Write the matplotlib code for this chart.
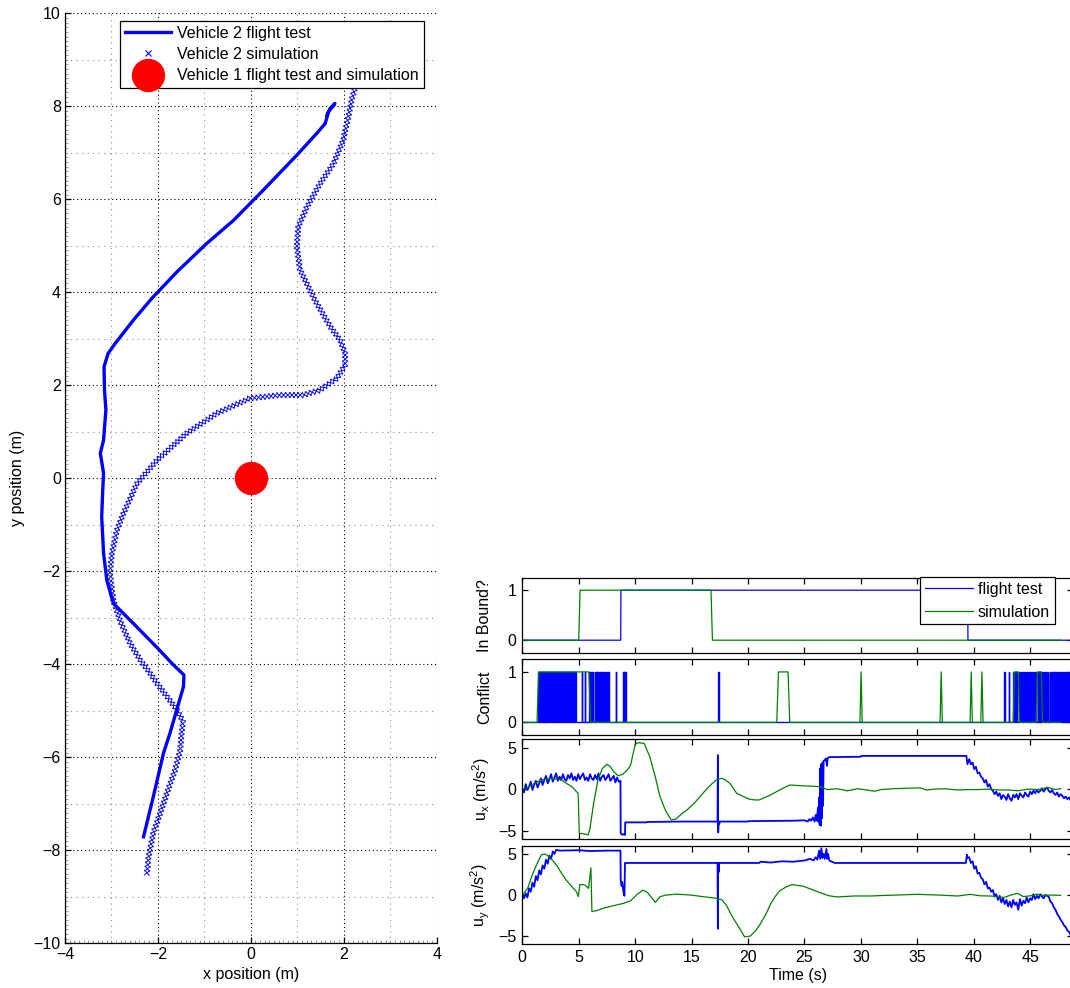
import numpy as np
import matplotlib.pyplot as plt
from matplotlib.ticker import MultipleLocator
from matplotlib import patheffects as pe

plt.rcParams['font.family'] = ['Liberation Sans', 'DejaVu Sans']
plt.rcParams['font.size'] = 11.5
plt.rcParams['mathtext.fontset'] = 'custom'
plt.rcParams['mathtext.rm'] = 'Liberation Sans'
plt.rcParams['mathtext.default'] = 'regular'
plt.rcParams['axes.linewidth'] = 0.9

# ---------------- trajectories (m) ----------------
ft_x = [-2.31, -2.10, -1.88, -1.74, -1.45, -1.44, -1.67, -2.00, -2.50, -2.96, -3.10, -3.17, -3.21,
        -3.19, -3.17, -3.24, -3.17, -3.12, -3.15, -3.16, -3.07, -2.92, -2.53, -2.13, -1.59, -0.95,
        -0.37, 0.27, 0.99, 1.42, 1.60, 1.67, 1.81, 1.71, 1.64]
ft_y = [-7.71, -6.85, -5.91, -5.48, -4.48, -4.23, -4.01, -3.66, -3.15, -2.69, -2.19, -1.61, -0.83,
        -0.30, 0.11, 0.54, 0.82, 1.47, 1.90, 2.40, 2.69, 2.90, 3.40, 3.87, 4.44, 5.05,
        5.55, 6.20, 6.95, 7.42, 7.63, 7.88, 8.06, 7.96, 7.81]

sim_x = [-2.24, -2.20, -2.10, -1.95, -1.80, -1.63, -1.52, -1.49, -1.46, -1.59, -1.80, -2.02, -2.20,
         -2.38, -2.60, -2.80, -2.96, -3.03, -2.99, -2.88, -2.74, -2.45, -2.02, -1.38, -0.73, -0.02,
         0.63, 1.13, 1.49, 1.85, 2.03, 2.03, 1.92, 1.71, 1.38, 1.06, 0.99, 1.02, 1.21, 1.49, 1.78,
         1.99, 2.10, 2.17, 2.25, 2.32]
sim_y = [-8.53, -8.14, -7.63, -7.20, -6.75, -6.27, -5.85, -5.48, -5.23, -4.98, -4.70, -4.41, -4.15,
         -3.91, -3.55, -3.10, -2.62, -2.04, -1.61, -1.11, -0.75, -0.11, 0.39, 0.97, 1.40, 1.72,
         1.79, 1.79, 1.90, 2.15, 2.44, 2.69, 2.97, 3.26, 3.83, 4.48, 4.98, 5.41, 5.84, 6.34, 6.77,
         7.28, 7.78, 8.14, 8.42, 8.70]

v1_x = [0.0]
v1_y = [0.0]

pos_xticks = [-4, -2, 0, 2, 4]
pos_yticks = [-10, -8, -6, -4, -2, 0, 2, 4, 6, 8, 10]

# ---------------- time histories ----------------
t_end = 48.8
time_ticks = [0, 5, 10, 15, 20, 25, 30, 35, 40, 45]

ib_ft_t = [0.0, 8.72, 8.74, 39.47, 39.49, 48.8]
ib_ft_v = [0, 0, 1, 1, 0, 0]
ib_sim_t = [0.0, 5.00, 5.12, 16.72, 16.85, 47.7]
ib_sim_v = [0, 0, 1, 1, 0, 0]

cf_ft_on = [1.37, 1.50, 1.70, 1.83, 1.97, 2.10, 2.22, 2.35, 2.47, 2.60, 2.72, 2.85, 2.97, 3.10,
            3.22, 3.35, 3.47, 3.60, 3.80, 3.93, 4.05, 4.20, 4.33, 4.45, 4.58, 4.70,
            5.25, 5.54, 5.92, 6.05, 6.20, 6.40, 6.53, 6.64, 6.80, 6.90, 7.03, 7.15, 7.30, 7.46,
            7.62, 8.28, 8.96, 9.05, 9.13, 17.38,
            42.72, 43.10, 43.50, 43.65, 43.78, 44.05, 44.20, 44.35, 44.48, 44.62, 44.78, 44.90,
            45.05, 45.20, 45.32, 45.48, 45.70, 45.85, 46.00, 46.15, 46.28, 46.42, 46.58, 46.72,
            46.88, 47.02, 47.15, 47.30, 47.45, 47.58, 47.72, 47.88, 48.02, 48.18, 48.32, 48.48,
            48.62]
cf_ft_off = [1.45, 1.58, 1.78, 1.88, 2.05, 2.14, 2.30, 2.42, 2.55, 2.66, 2.80, 2.92, 3.05, 3.16,
             3.30, 3.42, 3.55, 3.66, 3.88, 4.00, 4.10, 4.28, 4.40, 4.48, 4.65, 4.78,
             5.29, 5.58, 6.00, 6.10, 6.26, 6.48, 6.60, 6.68, 6.86, 6.93, 7.10, 7.20, 7.36, 7.50,
             7.66, 8.33, 9.00, 9.10, 9.17, 17.46,
             42.78, 43.15, 43.55, 43.72, 43.85, 44.12, 44.28, 44.40, 44.55, 44.70, 44.82, 44.98,
             45.12, 45.25, 45.40, 45.52, 45.78, 45.92, 46.08, 46.20, 46.35, 46.50, 46.62, 46.80,
             46.95, 47.08, 47.22, 47.38, 47.50, 47.65, 47.80, 47.95, 48.10, 48.25, 48.40, 48.55,
             48.70]

cf_sim_t = [0.0, 1.30, 1.45, 5.90, 6.05, 22.55, 22.70, 23.55, 23.70, 29.92, 30.02, 30.12,
            37.02, 37.12, 37.22, 39.68, 39.78, 39.88, 40.63, 40.73, 40.83, 43.50, 43.60, 43.95,
            44.05, 45.55, 45.65, 46.00, 46.10, 47.7]
cf_sim_v = [0, 0, 1, 1, 0, 0, 1, 1, 0, 0, 1, 0,
            0, 1, 0, 0, 1, 0, 0, 1, 0, 0, 1, 1,
            0, 0, 1, 1, 0, 0]

ux_ft_t = [0.00, 0.15, 0.30, 0.45, 0.60, 0.75, 0.90, 1.05, 1.20, 1.35, 1.50, 1.65, 1.80, 1.95,
           2.10, 2.25, 2.40, 2.55, 2.70, 2.85, 3.00, 3.15, 3.30, 3.45, 3.60, 3.75, 3.90, 4.05,
           4.20, 4.35, 4.50, 4.65, 4.80, 4.95, 5.10, 5.25, 5.40, 5.55, 5.70, 5.85, 6.00, 6.15,
           6.30, 6.45, 6.60, 6.75, 6.90, 7.05, 7.20, 7.35, 7.50, 7.65, 7.80, 7.95, 8.10, 8.25,
           8.40, 8.55,
           8.70, 8.72, 8.85, 9.00, 9.10, 9.12, 11.00, 11.05, 14.00, 17.30, 17.33, 17.36, 17.40,
           17.45, 17.50, 20.00, 20.05, 24.00, 25.00, 25.30, 25.45, 25.60, 25.75, 25.90, 26.00,
           26.10, 26.20, 26.25, 26.30, 26.35, 26.40, 26.45, 26.50, 26.55, 26.60, 26.65, 26.70,
           26.80, 26.90, 27.00, 27.05, 27.20, 30.00, 30.05, 39.35,
           39.45, 39.60, 39.75, 39.90, 40.05, 40.20, 40.35, 40.50, 40.65, 40.80, 40.95, 41.10,
           41.25, 41.40, 41.55, 41.70, 41.85, 42.00, 42.15, 42.30, 42.45, 42.60, 42.75, 42.90,
           43.05, 43.20, 43.35, 43.50, 43.65, 43.80, 43.95, 44.10, 44.25, 44.40, 44.55, 44.70,
           44.85, 45.00, 45.15, 45.30, 45.45, 45.60, 45.75, 45.90, 46.05, 46.20, 46.35, 46.50,
           46.65, 46.80, 46.95, 47.10, 47.25, 47.40, 47.55, 47.70, 47.85, 48.00, 48.15, 48.30,
           48.45, 48.60, 48.75]
ux_ft_v = [0.1, -0.4, 0.6, -0.1, 0.3, 0.9, -0.1, 0.5, 1.0, 0.2, 0.7, 1.3, 0.5, 1.1,
           1.6, 0.7, 1.2, 1.8, 0.9, 1.4, 1.9, 1.0, 1.5, 1.1, 1.8, 1.2, 1.0, 1.7,
           1.3, 1.9, 1.1, 1.5, 1.0, 1.8, 1.2, 1.6, 1.9, 1.1, 1.4, 1.0, 1.8, 1.3,
           1.1, 1.7, 1.2, 1.9, 1.0, 1.5, 1.7, 1.1, 1.4, 1.8, 1.0, 1.3, 1.6, 0.8,
           1.4, 0.9,
           1.0, -5.3, -5.5, -5.4, -5.5, -4.0, -4.0, -3.95, -3.9, -3.9, 4.1, -5.2, -3.9,
           -4.2, -3.9, -3.9, -3.85, -3.8, -3.75, -3.9, -3.6, -3.8, -3.4, -3.9, -3.1,
           -3.8, -2.2, -3.9, -1.0, -4.3, 2.5, -4.4, 3.0, -3.5, 3.2, -2.0, 3.4,
           3.5, 3.7, 2.8, 3.7, 3.85, 3.9, 4.0, 4.0,
           3.0, 3.6, 3.0, 3.2, 2.4, 2.7, 1.9, 2.0, 1.5, 1.3, 0.8, 1.1,
           0.3, 0.6, 0.0, -0.2, -0.6, -0.3, -0.8, -0.5, -1.2, -0.7, -0.9, -1.3,
           -0.6, -1.1, -1.4, -0.7, -1.0, -0.6, -1.2, -0.5, -0.8, -1.0, -0.4, -0.7,
           -0.9, -0.3, -0.6, -0.2, -0.5, -0.1, -0.4, -0.2, 0.1, -0.3, 0.0, 0.2,
           -0.2, -0.4, -0.1, -0.5, -0.7, -0.4, -0.9, -0.6, -0.8, -1.1, -0.9, -1.2,
           -1.0, -1.4, -1.5]

ux_sim_t = [0.0, 0.6, 1.2, 1.7, 2.4, 3.0, 3.5, 3.9, 4.4, 4.8, 4.95, 5.05, 5.5, 5.85, 6.0, 6.3,
            6.7, 7.1, 7.5, 7.8, 8.1, 8.5, 8.9, 9.3, 9.6, 10.0, 10.3, 10.8, 11.3, 11.8, 12.2,
            12.7, 13.2, 13.6, 14.1, 14.6, 15.3, 16.0, 16.6, 17.2, 17.6, 17.9, 18.4, 19.0, 19.6,
            20.1, 20.6, 21.0, 21.5, 22.0, 22.8, 23.7, 24.9, 26.4, 27.0, 27.9, 28.8, 29.7, 30.5,
            31.2, 31.8, 32.8, 33.9, 35.3, 35.8, 36.5, 37.4, 38.6, 39.5, 40.4, 41.3, 42.2, 43.1,
            43.9, 44.8, 45.7, 46.6, 47.2, 47.7]
ux_sim_v = [-0.1, 0.3, 0.8, 1.1, 1.3, 1.2, 1.1, 0.7, 0.3, -0.3, -0.5, -5.3, -5.4, -5.5, -4.7, -1.9,
            1.1, 2.5, 3.0, 2.7, 2.1, 1.6, 1.8, 2.3, 2.9, 5.4, 5.6, 5.5, 3.9, 1.4, -0.9,
            -2.6, -3.7, -3.6, -3.0, -2.5, -1.6, -0.5, 0.4, 1.1, 1.3, 1.2, 0.7, -0.5, -0.9,
            -1.2, -1.3, -1.3, -1.0, -0.7, -0.1, 0.5, 0.4, 0.3, -0.05, 0.05, -0.2, 0.05, -0.1,
            -0.25, -0.05, 0.05, 0.1, 0.15, -0.1, 0.0, 0.05, -0.1, -0.05, -0.05, 0.0, -0.1, -0.1,
            -0.2, 0.0, -0.05, 0.2, -0.05, 0.05]

uy_ft_t = [0.00, 0.15, 0.30, 0.45, 0.60, 0.75, 0.90, 1.05, 1.20, 1.35, 1.50, 1.65, 1.80, 1.95,
           2.10, 2.25, 2.40, 2.55, 2.70, 2.85, 3.00,
           3.30, 5.00, 6.00, 7.50, 8.70, 8.72, 8.80, 8.85, 8.95, 9.05, 9.10, 17.30, 17.33, 17.36,
           17.40, 17.45, 21.00, 21.10, 22.00, 23.00, 24.00, 25.00, 25.50, 25.80, 26.00, 26.15,
           26.30, 26.40, 26.50, 26.60, 26.70, 26.80, 26.95, 27.00, 27.10, 27.20, 27.60, 27.70,
           39.30, 39.40,
           39.45, 39.60, 39.75, 39.90, 40.05, 40.20, 40.35, 40.50, 40.65, 40.80, 40.95, 41.10,
           41.25, 41.40, 41.55, 41.70, 41.85, 42.00, 42.15, 42.30, 42.45, 42.60, 42.75, 42.90,
           43.05, 43.20, 43.35, 43.50, 43.65, 43.80, 43.95, 44.10, 44.25, 44.40, 44.55, 44.70,
           44.85, 45.00, 45.15, 45.30, 45.45, 45.60, 45.75, 45.90, 46.05, 46.20, 46.35, 46.50,
           46.65, 46.80, 46.95, 47.10, 47.25, 47.40, 47.55, 47.70, 47.85, 48.00, 48.15, 48.30,
           48.45, 48.60, 48.75]
uy_ft_v = [-0.1, -0.4, 0.2, -0.3, 0.8, 0.4, 1.5, 1.0, 2.3, 1.8, 3.0, 2.5, 3.6, 3.2,
           4.3, 3.8, 4.8, 4.4, 5.3, 5.0, 5.5,
           5.4, 5.45, 5.35, 5.4, 5.4, 1.8, 1.1, 1.6, 0.5, -0.1, 3.9, 3.9, -4.1, 3.9,
           2.8, 3.9, 3.9, 4.05, 3.95, 4.1, 4.05, 4.2, 4.4, 4.2, 4.6, 4.3,
           5.4, 4.4, 5.7, 4.5, 5.0, 4.4, 5.6, 4.4, 5.0, 4.2, 3.95, 3.9,
           3.9, 4.9,
           4.5, 4.6, 3.9, 4.1, 3.2, 3.5, 2.6, 2.7, 2.1, 1.9, 1.3, 1.6,
           0.8, 0.9, 0.4, 0.6, -0.2, 0.1, -0.6, -0.1, -0.9, -0.4, -1.1, -0.6,
           -1.4, -0.8, -1.5, -0.6, -1.2, -0.9, -1.8, -0.5, -1.3, -0.7, -1.0, -0.3,
           -0.9, -0.4, -0.6, 0.1, -0.5, -0.1, -0.4, 0.1, -0.2, -0.4, 0.0, -0.1,
           -0.2, -0.8, -1.0, -1.5, -1.8, -2.3, -2.6, -3.0, -3.3, -3.7, -3.9, -4.3,
           -4.5, -4.9, -5.1]

uy_sim_t = [0.0, 0.5, 0.9, 1.3, 1.7, 2.0, 2.45, 3.05, 3.5, 3.9, 4.4, 4.8, 4.97, 5.1, 5.57, 5.87,
            6.08, 6.17, 6.6, 7.2, 7.8, 8.4, 9.0, 9.6, 10.2, 10.7, 11.1, 11.5, 11.8, 12.2, 12.8,
            13.7, 14.9, 16.0, 17.2, 17.7, 18.1, 18.6, 19.0, 19.4, 19.7, 20.2, 20.7, 21.1, 21.6,
            22.0, 22.4, 22.8, 23.4, 23.9, 24.9, 25.6, 26.4, 27.2, 27.9, 29.4, 30.9, 32.1, 33.3,
            35.0, 36.8, 38.6, 39.7, 40.6, 41.5, 42.7, 43.3, 43.9, 44.4, 45.0, 45.6, 46.2, 46.8,
            47.7]
uy_sim_v = [-0.1, 0.9, 2.5, 3.8, 4.9, 5.0, 4.6, 3.6, 2.6, 1.8, 1.0, 0.4, -0.2, 1.3, 1.2, 0.8,
            3.3, -2.0, -1.9, -1.6, -1.4, -1.2, -1.0, -0.7, 0.1, 0.6, 0.3, -0.4, -0.9, -0.2, 0.0,
            0.1, 0.0, -0.2, -0.4, -0.6, -1.3, -2.6, -3.5, -4.4, -5.1, -5.0, -4.3, -3.5, -2.3,
            -1.1, -0.2, 0.5, 1.0, 1.26, 1.07, 0.7, 0.28, -0.1, -0.24, -0.12, -0.12, -0.05, 0.0,
            0.08, 0.0, -0.12, 0.08, -0.1, -0.12, -0.3, 0.0, 0.2, -0.2, -0.1, 0.1, -0.05, 0.0,
            -0.04]

BLUE = (0, 0, 1)
GREEN = (0, 0.5, 0)

fig = plt.figure(figsize=(10.7, 9.88), dpi=100)
W, H = 1070.0, 988.0


def box(l, t, r, b):
    return [l / W, 1 - b / H, (r - l) / W, (b - t) / H]


# ---------------- left: x-y trajectories ----------------
ax = fig.add_axes(box(65, 13.3, 436.7, 943.3))
h_ft, = ax.plot(ft_x, ft_y, color=BLUE, lw=2.4, solid_joinstyle='round', zorder=3,
                label='Vehicle 2 flight test')
xfx = [pe.TickedStroke(spacing=3.0, angle=a, length=0.85, linewidth=0.65) for a in (45, 135, -45, -135)]
ax.plot(sim_x, sim_y, color=BLUE, lw=0.65, path_effects=xfx, zorder=4)
h_sim, = ax.plot([], [], ls='none', marker='x', color=BLUE, ms=4, mew=0.8,
                 label='Vehicle 2 simulation')
h_v1, = ax.plot(v1_x, v1_y, ls='none', marker='o', color='r', mec='r', ms=23, zorder=5,
                label='Vehicle 1 flight test and simulation')

ax.set_xlim(-4, 4)
ax.set_ylim(-10, 10)
ax.set_xticks(pos_xticks)
ax.set_yticks(pos_yticks)
ax.xaxis.set_minor_locator(MultipleLocator(0.1))
ax.yaxis.set_minor_locator(MultipleLocator(0.1))
ax.spines['top'].set_visible(False)
ax.spines['right'].set_visible(False)
ax.tick_params(which='both', direction='in', top=False, right=False)
ax.tick_params(which='major', length=4, width=0.9, pad=3)
ax.tick_params(which='minor', length=2, width=0.5, color='0.45')
ax.grid(True, which='major', color='k', linestyle=(0, (1, 2.5)), linewidth=0.8)
for v in pos_xticks[:-1]:
    ax.axvline(v + 1, color='0.55', ls=(0, (1, 4)), lw=0.8, zorder=0)
for v in pos_yticks[:-1]:
    ax.axhline(v + 1, color='0.55', ls=(0, (1, 4)), lw=0.8, zorder=0)
ax.set_axisbelow(True)
ax.set_xlabel('x position (m)')
ax.set_ylabel('y position (m)')
ax.xaxis.set_label_coords(0.5, -0.026)
ax.yaxis.set_label_coords(-0.108, 0.5)
leg = ax.legend(handles=[h_ft, h_sim, h_v1], loc='upper left', bbox_to_anchor=(0.148, 0.992),
                borderaxespad=0, fancybox=False, edgecolor='k', framealpha=1,
                handlelength=2.9, handletextpad=0.38, borderpad=0.3, labelspacing=0.4)
leg.get_frame().set_linewidth(0.9)
leg.set_zorder(10)

# ---------------- right: time histories ----------------
R = 1073
ax1 = fig.add_axes(box(522.3, 577.7, R, 652.7))
ax2 = fig.add_axes(box(522.3, 659.3, R, 735.0))
ax3 = fig.add_axes(box(522.3, 739.3, R, 839.0))
ax4 = fig.add_axes(box(522.3, 845.7, R, 944.3))

l_ft, = ax1.plot(ib_ft_t, ib_ft_v, color=BLUE, lw=0.9, label='flight test')
l_sim, = ax1.plot(ib_sim_t, ib_sim_v, color=GREEN, lw=0.9, label='simulation')

cx, cy = [0.0], [0]
for on, off in zip(cf_ft_on, cf_ft_off):
    cx += [on, on, off, off]
    cy += [0, 1, 1, 0]
cx.append(t_end)
cy.append(0)
ax2.plot(cx, cy, color=BLUE, lw=1.0)
ax2.plot(cf_sim_t, cf_sim_v, color=GREEN, lw=0.9)

ax3.plot(ux_ft_t, ux_ft_v, color=BLUE, lw=1.3)
ax3.plot(ux_sim_t, ux_sim_v, color=GREEN, lw=0.9)
ax4.plot(uy_ft_t, uy_ft_v, color=BLUE, lw=1.3)
ax4.plot(uy_sim_t, uy_sim_v, color=GREEN, lw=0.9)

for a in (ax1, ax2):
    a.set_ylim(-0.25, 1.25)
    a.set_yticks([0, 1])
for a in (ax3, ax4):
    a.set_ylim(-6, 6)
    a.set_yticks([-5, 0, 5])
for a in (ax1, ax2, ax3, ax4):
    a.set_xlim(0, t_end)
    a.set_xticks(time_ticks)
    a.tick_params(direction='in', top=True, right=True, length=4, width=0.9, pad=4)
    a.yaxis.set_label_coords(-0.055, 0.5)
for a in (ax1, ax2, ax3):
    a.tick_params(labelbottom=False)

ax1.set_ylabel('In Bound?')
ax2.set_ylabel('Conflict')
ax3.set_ylabel('u$_x$ (m/s$^2$)')
ax4.set_ylabel('u$_y$ (m/s$^2$)')
ax4.set_xlabel('Time (s)')
ax4.xaxis.set_label_coords(0.5, -0.24)

leg2 = ax1.legend(handles=[l_ft, l_sim], loc='upper right', bbox_to_anchor=(0.967, 1.013),
                  borderaxespad=0, fancybox=False, edgecolor='k', framealpha=1,
                  handlelength=3.0, handletextpad=0.3, borderpad=0.3, labelspacing=0.5)
leg2.get_frame().set_linewidth(0.9)

fig.savefig('out.png', dpi=100)
